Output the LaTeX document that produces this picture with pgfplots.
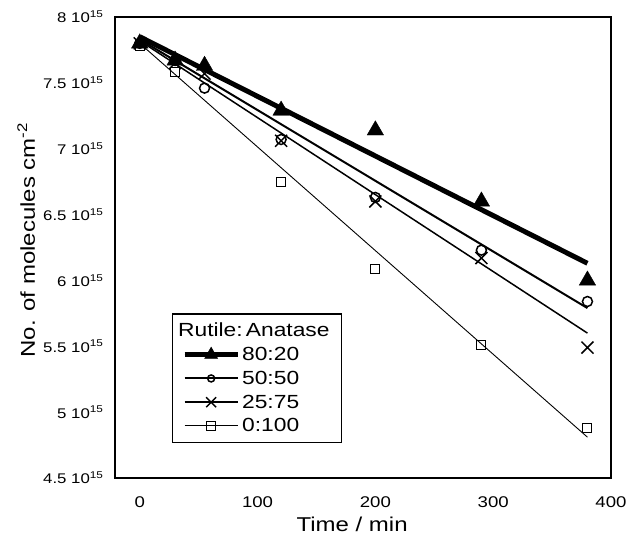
\documentclass[border=0pt]{standalone}
\usepackage{fontspec}
\setmainfont{Liberation Sans}[FakeStretch=1.2]
\usepackage{pgfplots}
\pgfplotsset{compat=1.18}
\begin{document}
\begin{tikzpicture}
\begin{axis}[
  scale only axis, width=496pt, height=461pt,
  xmin=-21, xmax=400, ymin=4.5, ymax=8,
  xtick={0,100,200,300,400},
  ytick={4.5,5,5.5,6,6.5,7,7.5,8},
  yticklabels={4.5 10\textsuperscript{15},5 10\textsuperscript{15},5.5 10\textsuperscript{15},6 10\textsuperscript{15},6.5 10\textsuperscript{15},7 10\textsuperscript{15},7.5 10\textsuperscript{15},8 10\textsuperscript{15}},
  major tick length=0pt,
  axis line style={line width=1.3pt},
  xticklabel style={font=\fontsize{15.5}{18}\selectfont, yshift=-15pt},
  yticklabel style={font=\fontsize{14}{17}\selectfont, xshift=-8pt},
  /pgf/number format/assume math mode=true,
  xlabel={Time / min},
  ylabel={No. of molecules cm\textsuperscript{-2}},
  every axis x label/.style={at={(axis description cs:0.478,-0.1)}, anchor=center, font=\fontsize{20}{24}\selectfont},
  every axis y label/.style={at={(axis description cs:-0.179,0.516)}, rotate=90, anchor=center, font=\fontsize{20}{24}\selectfont},
  legend style={at={(0.114,0.076)}, anchor=south west, draw=black, line width=1.2pt,
    font=\fontsize{19}{22}\selectfont, row sep=5pt, inner xsep=10pt, inner ysep=7pt},
  legend cell align=left,
]
% fit lines
\addplot[line width=5pt, forget plot] coordinates {(0,7.85) (380,6.13)};
\addplot[line width=2pt, forget plot] coordinates {(0,7.83) (380,5.79)};
\addplot[line width=1.5pt, forget plot] coordinates {(0,7.82) (380,5.60)};
\addplot[line width=0.9pt, forget plot] coordinates {(0,7.80) (380,4.81)};

\addlegendimage{empty legend}
\addlegendentry{\hspace{-64pt}Rutile:\,Anatase}

\addplot[only marks, mark=triangle*, mark size=9.5pt, fill=black,
  legend image code/.code={\draw[line width=5pt] (0pt,0pt)--(53pt,0pt);
    \draw[line width=0.5pt, fill=black, mark=triangle*, mark size=7.5pt] plot coordinates {(26.5pt,0pt)};}]
  coordinates {(0,7.80) (30,7.67) (55,7.63) (120,7.29) (200,7.14) (290,6.60) (380,6.00)};
\addlegendentry{80:20}

\addplot[only marks, mark=o, mark size=5pt, line width=1.5pt,
  legend image code/.code={\draw[line width=2pt] (0pt,0pt)--(53pt,0pt);
    \draw[line width=1.5pt, fill=white, mark=o, mark size=3.5pt] plot coordinates {(26.5pt,0pt)};}]
  coordinates {(0,7.80) (30,7.67) (55,7.46) (120,7.07) (200,6.63) (290,6.23) (380,5.84)};
\addlegendentry{50:50}

\addplot[only marks, mark=x, mark size=8.5pt, line width=1.5pt,
  legend image code/.code={\draw[line width=1.5pt] (0pt,0pt)--(53pt,0pt);
    \draw[line width=1.5pt, mark=x, mark size=7pt] plot coordinates {(26.5pt,0pt)};}]
  coordinates {(0,7.80) (30,7.65) (55,7.57) (120,7.06) (200,6.60) (290,6.17) (380,5.49)};
\addlegendentry{25:75}

\addplot[only marks, mark=square, mark size=4.5pt, line width=1pt,
  legend image code/.code={\draw[line width=1pt] (0pt,0pt)--(53pt,0pt);
    \draw[line width=1pt, fill=white, mark=square, mark size=4.5pt] plot coordinates {(26.5pt,0pt)};}]
  coordinates {(0,7.78) (30,7.58) (120,6.75) (200,6.09) (290,5.51) (380,4.88)};
\addlegendentry{0:100}
\end{axis}
\pgfresetboundingbox
\path ([shift={(-115pt,-60pt)}]current axis.south west) rectangle ([shift={(20pt,17pt)}]current axis.north east);
\end{tikzpicture}
\end{document}
